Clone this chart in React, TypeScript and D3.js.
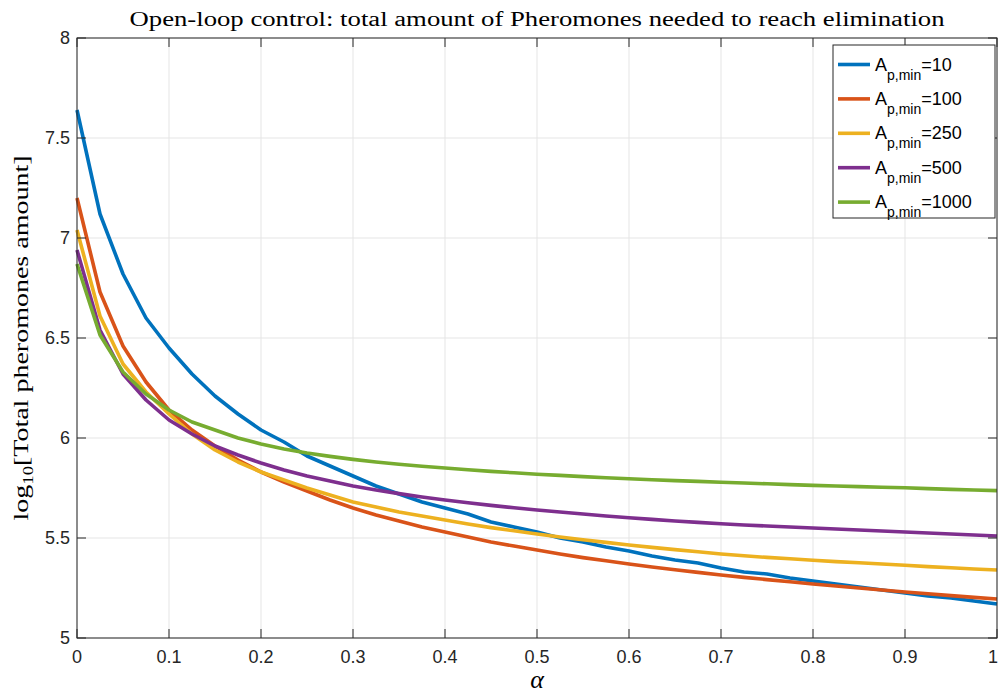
import React from "react";
import * as d3 from "d3";

const alphaValues = [
  0, 0.025, 0.05, 0.075, 0.1, 0.125, 0.15, 0.175, 0.2, 0.225, 0.25, 0.275, 0.3, 0.325, 0.35, 0.375, 0.4,
  0.425, 0.45, 0.475, 0.5, 0.525, 0.55, 0.575, 0.6, 0.625, 0.65, 0.675, 0.7, 0.725, 0.75, 0.775, 0.8,
  0.825, 0.85, 0.875, 0.9, 0.925, 0.95, 0.975, 1,
];

const seriesA10 = [
  7.64, 7.12, 6.82, 6.6, 6.45, 6.32, 6.21, 6.12, 6.04, 5.98, 5.91, 5.86, 5.81, 5.76, 5.72, 5.68, 5.65,
  5.62, 5.58, 5.555, 5.53, 5.5, 5.48, 5.455, 5.435, 5.41, 5.39, 5.375, 5.35, 5.33, 5.32, 5.3, 5.285,
  5.27, 5.255, 5.24, 5.225, 5.21, 5.2, 5.185, 5.17,
];
const seriesA100 = [
  7.2, 6.73, 6.46, 6.28, 6.14, 6.04, 5.96, 5.89, 5.83, 5.78, 5.735, 5.69, 5.65, 5.615, 5.585, 5.555, 5.53,
  5.505, 5.48, 5.46, 5.44, 5.42, 5.402, 5.386, 5.37, 5.355, 5.341, 5.328, 5.315, 5.303, 5.292, 5.281, 5.27,
  5.26, 5.25, 5.24, 5.23, 5.221, 5.212, 5.203, 5.195,
];
const seriesA250 = [
  7.04, 6.61, 6.37, 6.23, 6.12, 6.02, 5.94, 5.88, 5.83, 5.79, 5.75, 5.715, 5.68, 5.655, 5.63, 5.61, 5.59,
  5.57, 5.552, 5.536, 5.52, 5.505, 5.491, 5.478, 5.465, 5.453, 5.442, 5.431, 5.42, 5.411, 5.403, 5.396, 5.389,
  5.382, 5.376, 5.37, 5.364, 5.357, 5.351, 5.345, 5.34,
];
const seriesA500 = [
  6.94, 6.54, 6.32, 6.19, 6.09, 6.02, 5.96, 5.915, 5.875, 5.84, 5.81, 5.785, 5.76, 5.74, 5.722, 5.705, 5.69,
  5.676, 5.663, 5.651, 5.64, 5.63, 5.62, 5.61, 5.601, 5.593, 5.585, 5.578, 5.571, 5.565, 5.56, 5.555, 5.55,
  5.545, 5.54, 5.535, 5.53, 5.525, 5.52, 5.515, 5.51,
];
const seriesA1000 = [
  6.87, 6.515, 6.33, 6.22, 6.14, 6.08, 6.04, 6.0, 5.97, 5.945, 5.925, 5.908, 5.893, 5.88, 5.869, 5.859, 5.85,
  5.841, 5.833, 5.826, 5.819, 5.813, 5.807, 5.801, 5.796, 5.791, 5.787, 5.783, 5.779, 5.775, 5.771, 5.767, 5.763,
  5.76, 5.757, 5.754, 5.751, 5.747, 5.743, 5.74, 5.737,
];

const legendLabels = ["10", "100", "250", "500", "1000"];
const seriesList = [seriesA10, seriesA100, seriesA250, seriesA500, seriesA1000];
const colors = ["#0072BD", "#D95319", "#EDB120", "#7E2F8E", "#77AC30"];
const xTicks = [0, 0.1, 0.2, 0.3, 0.4, 0.5, 0.6, 0.7, 0.8, 0.9, 1];
const yTicks = [5, 5.5, 6, 6.5, 7, 7.5, 8];

export default function App() {
  const W = 998;
  const H = 697;
  const left = 77;
  const right = 997;
  const top = 38;
  const bottom = 638;
  const x = d3.scaleLinear().domain([0, 1]).range([left, right]);
  const y = d3.scaleLinear().domain([5, 8]).range([bottom, top]);
  const line = d3
    .line<number>()
    .x((_, i) => x(alphaValues[i]))
    .y((d) => y(d));
  const sans = "'Liberation Sans', Arial, Helvetica, sans-serif";
  const serif = "'Liberation Serif', 'DejaVu Serif', serif";
  const axisColor = "#262626";
  const tickLen = 9;

  const legX = 833;
  const legY = 45;
  const legW = 162;
  const legH = 173;
  const rowH = 34.4;

  return (
    <svg
      width={W}
      height={H}
      style={{ position: "absolute", left: 0, top: 0, background: "#fff" }}
    >
      <rect x={0} y={0} width={W} height={H} fill="#fff" />
      {/* grid */}
      {xTicks.map((t) => (
        <line key={"gx" + t} x1={x(t)} x2={x(t)} y1={top} y2={bottom} stroke="#e5e5e5" strokeWidth={1} />
      ))}
      {yTicks.map((t) => (
        <line key={"gy" + t} x1={left} x2={right} y1={y(t)} y2={y(t)} stroke="#e5e5e5" strokeWidth={1} />
      ))}
      {/* series */}
      {seriesList.map((s, i) => (
        <path
          key={"s" + i}
          d={line(s) || ""}
          fill="none"
          stroke={colors[i]}
          strokeWidth={3.6}
          strokeLinejoin="round"
        />
      ))}
      {/* box and ticks */}
      <rect x={left} y={top} width={right - left} height={bottom - top} fill="none" stroke={axisColor} strokeWidth={1} />
      {xTicks.map((t) => (
        <g key={"tx" + t}>
          <line x1={x(t)} x2={x(t)} y1={bottom} y2={bottom - tickLen} stroke={axisColor} />
          <line x1={x(t)} x2={x(t)} y1={top} y2={top + tickLen} stroke={axisColor} />
          <text x={t === 1 ? x(t) - 4 : x(t)} y={bottom + 25} textAnchor="middle" fontFamily={sans} fontSize={18} fill="#262626">
            {String(t)}
          </text>
        </g>
      ))}
      {yTicks.map((t) => (
        <g key={"ty" + t}>
          <line x1={left} x2={left + tickLen} y1={y(t)} y2={y(t)} stroke={axisColor} />
          <line x1={right} x2={right - tickLen} y1={y(t)} y2={y(t)} stroke={axisColor} />
          <text x={left - 7} y={y(t) + 6} textAnchor="end" fontFamily={sans} fontSize={18} fill="#262626">
            {String(t)}
          </text>
        </g>
      ))}
      {/* title */}
      <text
        x={(left + right) / 2}
        y={26}
        textAnchor="middle"
        fontFamily={serif}
        fontSize={20}
        textLength={815}
        lengthAdjust="spacingAndGlyphs"
        fill="#000"
      >
        Open-loop control: total amount of Pheromones needed to reach elimination
      </text>
      {/* x label */}
      <text x={(left + right) / 2} y={688} textAnchor="middle" fontFamily={serif} fontStyle="italic" fontSize={26} fill="#000">
        α
      </text>
      {/* y label */}
      <text
        transform={`translate(28, ${(top + bottom) / 2}) rotate(-90)`}
        textAnchor="middle"
        fontFamily={serif}
        fontSize={21}
        textLength={365}
        lengthAdjust="spacingAndGlyphs"
        fill="#000"
      >
        log
        <tspan fontSize={14} dy={5}>10</tspan>
        <tspan dy={-5}>[Total pheromones amount]</tspan>
      </text>
      {/* legend */}
      <rect x={legX} y={legY} width={legW} height={legH} fill="#fff" stroke={axisColor} strokeWidth={1} />
      {legendLabels.map((lab, i) => {
        const cy = legY + 19.5 + i * rowH;
        return (
          <g key={"lg" + i}>
            <line x1={legX + 5} x2={legX + 37} y1={cy} y2={cy} stroke={colors[i]} strokeWidth={3.6} />
            <text x={legX + 42} y={cy + 6} fontFamily={sans} fontSize={18} fill="#000">
              A
              <tspan fontSize={14} dy={9}>p,min</tspan>
              <tspan fontSize={18} dy={-9}>={lab}</tspan>
            </text>
          </g>
        );
      })}
    </svg>
  );
}
